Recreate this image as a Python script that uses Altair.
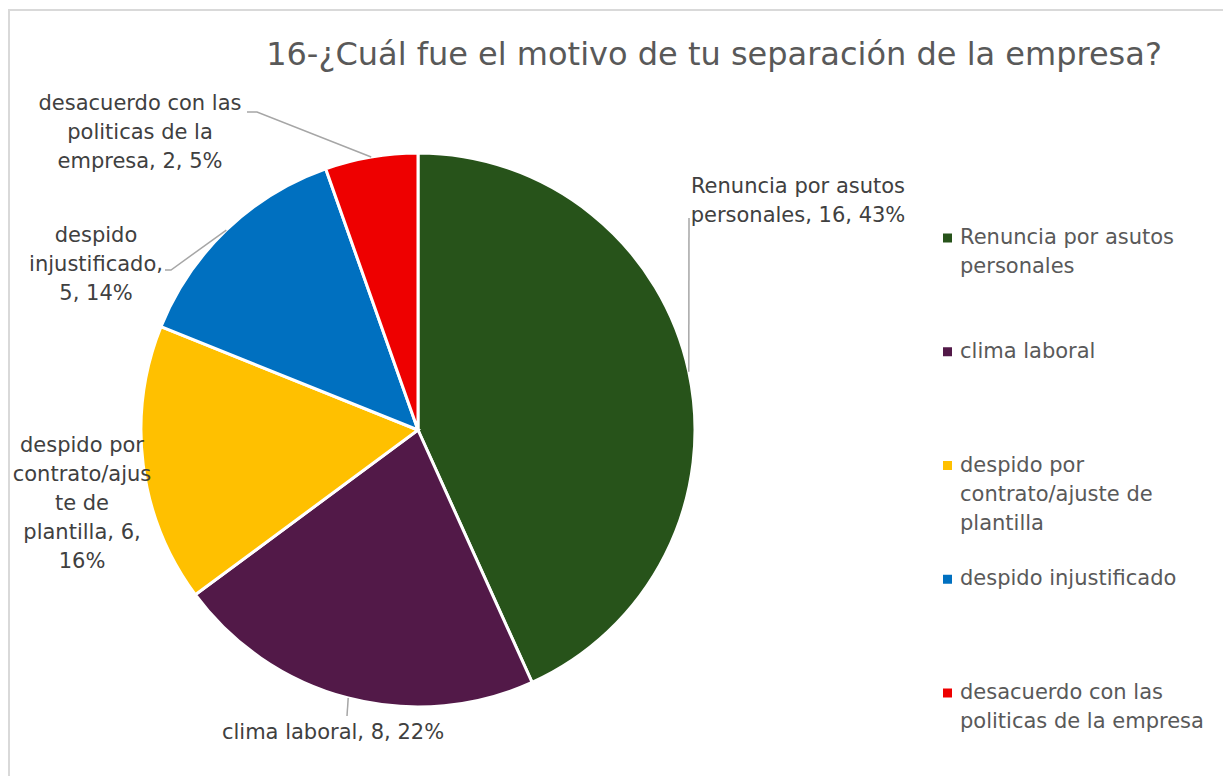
import math

import altair as alt
import pandas as pd

# Survey answers: reason for leaving the company
categories = [
    "Renuncia por asutos personales",
    "clima laboral",
    "despido por contrato/ajuste de plantilla",
    "despido injustificado",
    "desacuerdo con las politicas de la empresa",
]
counts = [16, 8, 6, 5, 2]
colors = ["#27531A", "#521948", "#FFC000", "#0070C0", "#EE0000"]
title_text = "16-¿Cuál fue el motivo de tu separación de la empresa?"

# Layout
W, H = 1223, 776
CX, CY, R = 418, 430, 277
FONT = "DejaVu Sans"
LABEL_SIZE = 21
LINE_H = 29
label_wrap = [19, 30, 13, 14, 18]            # characters per label line
label_xy = [(798, 187), (333, 733), (82, 446), (96, 236), (140, 104)]  # first line centre
leader_tail = [
    [(689, 218)],
    [(347, 716)],
    [],
    [(171, 270), (165, 270)],
    [(257, 112), (247, 112)],
]
legend_wrap = 23
legend_y_range = [238, 693]


def wrap(text, width):
    """Greedy word wrap; a word longer than the width starts a new line and is split."""
    lines, cur = [], ""
    for word in text.split(" "):
        cand = word if not cur else cur + " " + word
        if len(cand) <= width:
            cur = cand
            continue
        if cur:
            lines.append(cur)
        while len(word) > width:
            lines.append(word[:width])
            word = word[width:]
        cur = word
    if cur:
        lines.append(cur)
    return "\n".join(lines)


total = sum(counts)
rows, leader_rows = [], []
cum = 0
for i, (cat, n) in enumerate(zip(categories, counts)):
    pct = round(100 * n / total)
    mid = 2 * math.pi * (cum + n / 2) / total
    cum += n
    rows.append({
        "idx": i,
        "category": cat,
        "count": n,
        "label": wrap(f"{cat}, {n}, {pct}%", label_wrap[i]),
        "lx": label_xy[i][0],
        "ly": label_xy[i][1],
        "legend_label": wrap(cat, legend_wrap),
    })
    if leader_tail[i]:
        pts = [(CX + R * math.sin(mid), CY - R * math.cos(mid))] + leader_tail[i]
        for s, (px, py) in enumerate(pts):
            leader_rows.append({"category": cat, "step": s, "px": px, "py": py})

df = pd.DataFrame(rows)
leaders = pd.DataFrame(leader_rows)
color_scale = alt.Scale(domain=categories, range=colors)

frame = alt.Chart(pd.DataFrame({"k": [0]})).mark_rect(
    fillOpacity=0, stroke="#D9D9D9", strokeWidth=2
).encode(x=alt.value(9), y=alt.value(10), x2=alt.value(W + 20), y2=alt.value(H + 20))

title = alt.Chart(pd.DataFrame({"t": [title_text]})).mark_text(
    font=FONT, fontSize=32, color="#595959", align="center", baseline="middle"
).encode(x=alt.value(714), y=alt.value(55), text="t:N")

pie = alt.Chart(df).mark_arc(outerRadius=R, stroke="white", strokeWidth=3).encode(
    theta=alt.Theta("count:Q", stack=True),
    color=alt.Color("category:N", scale=color_scale, legend=None),
    order=alt.Order("idx:Q"),
    x=alt.value(CX),
    y=alt.value(CY),
)

lines = alt.Chart(leaders).mark_line(color="#A6A6A6", strokeWidth=1.5).encode(
    x=alt.X("px:Q", scale=None, axis=None),
    y=alt.Y("py:Q", scale=None, axis=None),
    detail="category:N",
    order="step:Q",
)

labels = alt.Chart(df).mark_text(
    font=FONT, fontSize=LABEL_SIZE, lineHeight=LINE_H, lineBreak="\n",
    color="#404040", align="center", baseline="middle",
).encode(
    x=alt.X("lx:Q", scale=None, axis=None),
    y=alt.Y("ly:Q", scale=None, axis=None),
    text="label:N",
)

legend_y = alt.Y(
    "category:N",
    scale=alt.Scale(type="point", domain=categories, range=legend_y_range, padding=0),
    axis=None,
)

legend_marks = alt.Chart(df).mark_square(size=81, opacity=1).encode(
    x=alt.value(947.5),
    y=legend_y,
    color=alt.Color("category:N", scale=color_scale, legend=None),
)

legend_text = alt.Chart(df).mark_text(
    font=FONT, fontSize=LABEL_SIZE, lineHeight=LINE_H, lineBreak="\n",
    color="#595959", align="left", baseline="middle",
).encode(
    x=alt.value(960),
    y=legend_y,
    text="legend_label:N",
)

chart = (
    alt.layer(frame, title, pie, lines, labels, legend_marks, legend_text)
    .resolve_scale(x="independent", y="independent")
    .properties(
        width=W,
        height=H,
        padding=0,
        autosize=alt.AutoSizeParams(type="none"),
        background="white",
    )
    .configure_view(stroke=None)
)

chart.save("out.html", embed_options={"renderer": "svg", "actions": False})
